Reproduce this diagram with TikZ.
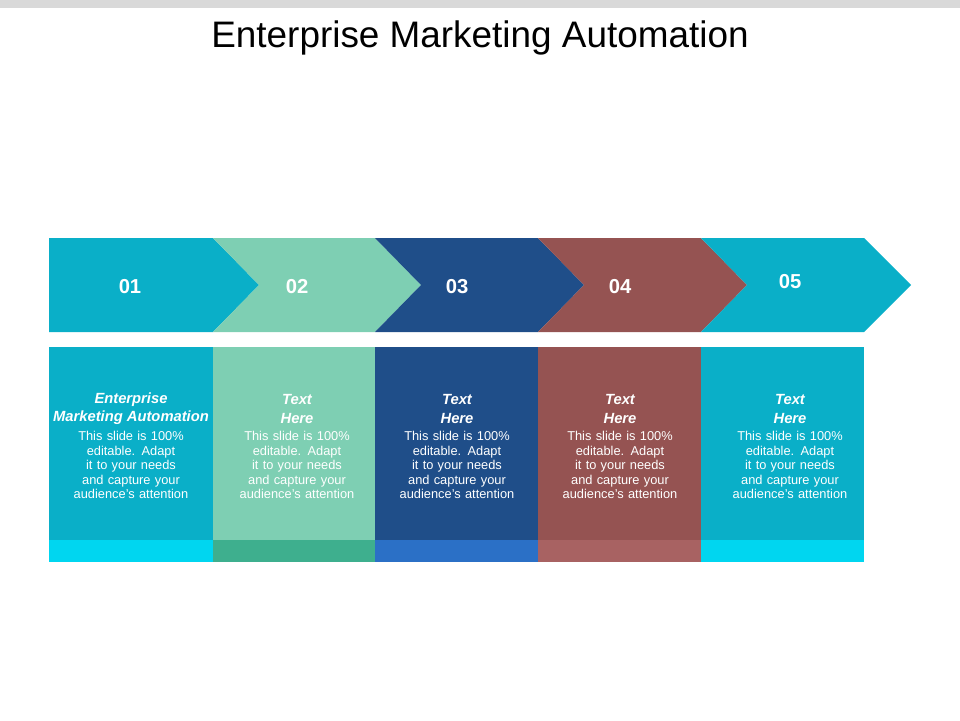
\documentclass[tikz,border=0pt]{standalone}
\usepackage{fontspec}
\setmainfont{Liberation Sans}
\hyphenpenalty=10000
\exhyphenpenalty=10000
\definecolor{cTeal}{HTML}{0AAFC8}
\definecolor{cMint}{HTML}{7ECFB3}
\definecolor{cNavy}{HTML}{1F4E89}
\definecolor{cBrown}{HTML}{955352}
\definecolor{sTeal}{HTML}{00D6F0}
\definecolor{sMint}{HTML}{3EAF8E}
\definecolor{sNavy}{HTML}{2B70C6}
\definecolor{sBrown}{HTML}{A86262}
\tikzset{
  numlbl/.style={text=white, font=\bfseries\fontsize{11.5}{14}\selectfont},
  headlbl/.style={text=white, align=center, font=\bfseries\itshape\fontsize{8.4}{10.4}\selectfont},
  bodylbl/.style={text=white, align=center, text width=2.65cm, inner sep=0pt,
    font=\fontsize{7.3}{8.3}\selectfont}
}
\begin{document}
\begin{tikzpicture}[x=0.02cm,y=-0.02cm]
  % Rahmen
  \useasboundingbox (0,0) rectangle (960,720);
  \fill[gray!30] (0,0) rectangle (960,8);
  \node (title) at (480,38) {\fontsize{21}{25}\selectfont Enterprise Marketing Automation};

  % Pfeile
  \fill[cTeal] (49,238) -- (213,238) -- (259,285) -- (213,332) -- (49,332) -- cycle;
  \fill[cMint] (213,238) -- (375,238) -- (421,285) -- (375,332) -- (213,332) -- (259,285) -- cycle;
  \fill[cNavy] (375,238) -- (538,238) -- (584,285) -- (538,332) -- (375,332) -- (421,285) -- cycle;
  \fill[cBrown] (538,238) -- (701,238) -- (747,285) -- (701,332) -- (538,332) -- (584,285) -- cycle;
  \fill[cTeal] (701,238) -- (864,238) -- (911,285) -- (864,332) -- (701,332) -- (747,285) -- cycle;
  \node[numlbl] (n1) at (130,287) {01};
  \node[numlbl] (n2) at (297,287) {02};
  \node[numlbl] (n3) at (457,287) {03};
  \node[numlbl] (n4) at (620,287) {04};
  \node[numlbl] (n5) at (790,282) {05};

  % Spalten
  \foreach \xa/\xb/\cc/\cs in {49/213/cTeal/sTeal, 213/375/cMint/sMint, 375/538/cNavy/sNavy, 538/701/cBrown/sBrown, 701/864/cTeal/sTeal}{
    \fill[\cc] (\xa,347) rectangle (\xb,540);
    \fill[\cs] (\xa,540) rectangle (\xb,562);
  }
  \node[headlbl] (h1) at (131,409) {Enterprise\\Marketing Automation};
  \node[headlbl] (h2) at (297,409) {Text\\Here};
  \node[headlbl] (h3) at (457,409) {Text\\Here};
  \node[headlbl] (h4) at (620,409) {Text\\Here};
  \node[headlbl] (h5) at (790,409) {Text\\Here};
  \foreach \xc/\nm in {131/b1, 297/b2, 457/b3, 620/b4, 790/b5}{
    \node[bodylbl] (\nm) at (\xc,465) {This slide is 100\% editable. Adapt it to your needs and capture your audience's attention};
  }
\end{tikzpicture}
\end{document}
